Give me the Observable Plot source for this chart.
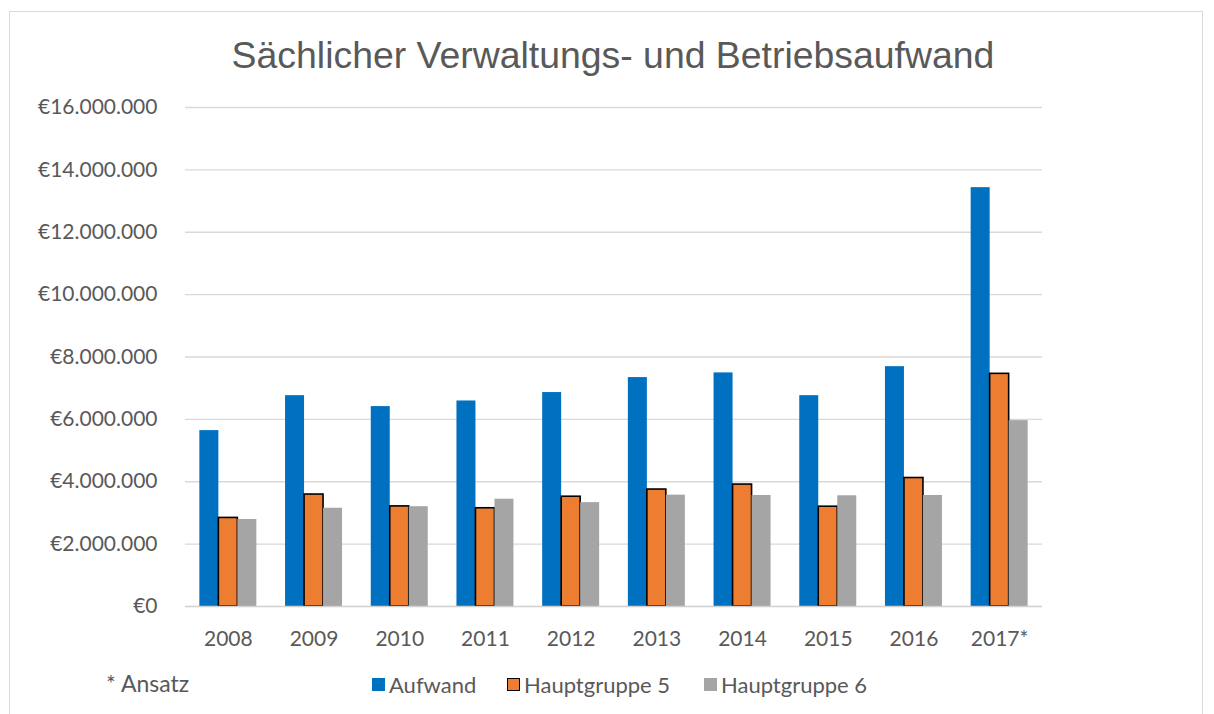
<!DOCTYPE html>
<html>
<head>
<meta charset="utf-8">
<script src="https://cdn.jsdelivr.net/npm/d3@7"></script>
<script src="https://cdn.jsdelivr.net/npm/@observablehq/plot@0.6"></script>
<style>
  html, body { margin: 0; padding: 0; background: #fff; }
  #wrap { position: relative; width: 1214px; height: 714px; overflow: hidden; }
  #frame { position: absolute; left: 9px; top: 11px; width: 1194px; height: 720px; border: 1px solid #d9d9d9; box-sizing: border-box; }
  #title { position: absolute; left: 0; width: 1226px; top: 31px; text-align: center; font-family: "Liberation Sans", Arial, sans-serif; font-size: 37.4px; color: #595959; line-height: 48px; }
  #plot { position: absolute; left: 0; top: 0; }
  #note { position: absolute; left: 106px; top: 669px; font-family: Lato, sans-serif; font-size: 23px; color: #595959; }
  #legend { position: absolute; left: 0; top: 0; font-family: Lato, sans-serif; font-size: 22px; color: #595959; }
  .item { position: absolute; top: 671px; display: flex; align-items: center; white-space: nowrap; }
  .sw { width: 13px; height: 13px; margin-right: 4px; box-sizing: border-box; }
</style>
</head>
<body>
<div id="wrap">
  <div id="frame"></div>
  <div id="title">Sächlicher Verwaltungs- und Betriebsaufwand</div>
  <div id="plot"></div>
  <div id="note">* Ansatz</div>
  <div id="legend"></div>
</div>
<script>
const years = ["2008", "2009", "2010", "2011", "2012", "2013", "2014", "2015", "2016", "2017*"];
const seriesNames = ["Aufwand", "Hauptgruppe 5", "Hauptgruppe 6"];
const seriesColors = ["#0070C0", "#ED7D31", "#A5A5A5"];
const aufwand = [5640000, 6760000, 6410000, 6590000, 6860000, 7340000, 7490000, 6760000, 7690000, 13430000];
const hauptgruppe5 = [2840000, 3590000, 3210000, 3150000, 3520000, 3750000, 3910000, 3200000, 4120000, 7460000];
const hauptgruppe6 = [2790000, 3150000, 3200000, 3440000, 3330000, 3570000, 3560000, 3550000, 3560000, 5960000];
const yTicks = [0, 2000000, 4000000, 6000000, 8000000, 10000000, 12000000, 14000000, 16000000];
const legendLeft = [372, 507, 704];

const seriesValues = [aufwand, hauptgruppe5, hauptgruppe6];
const rows = [];
seriesNames.forEach((s, i) => years.forEach((y, j) => rows.push({year: y, series: s, value: seriesValues[i][j]})));

const width = 1214, height = 660;
const marginLeft = 185, marginRight = 172, marginTop = 107, marginBottom = 54;
const paddingInner = 0.335, paddingOuter = paddingInner / 2;
const step = (width - marginLeft - marginRight) / (years.length - paddingInner + 2 * paddingOuter);
const bw = step * (1 - paddingInner);
const third = bw / 3;

const fmt = d => "€" + d3.format(",")(d).replace(/,/g, ".");

const barMarks = seriesNames.map((s, i) => Plot.barY(rows.filter(r => r.series === s), {
  x: "year",
  y: "value",
  fill: seriesColors[i],
  stroke: i === 1 ? "#000" : "none",
  strokeWidth: i === 1 ? 1.6 : 0,
  insetLeft: i * third,
  insetRight: (2 - i) * third
}));

const chart = Plot.plot({
  width, height, marginLeft, marginRight, marginTop, marginBottom,
  style: {fontFamily: "Lato, sans-serif", fontSize: "21px", color: "#595959", background: "transparent", overflow: "visible"},
  x: {domain: years, paddingInner, paddingOuter, round: false, label: null, tickSize: 0, tickPadding: 25},
  y: {domain: [0, 16000000], ticks: yTicks, tickFormat: fmt, label: null, tickSize: 0, tickPadding: 28},
  marks: [
    Plot.ruleY(yTicks.filter(d => d > 0), {stroke: "#d9d9d9", strokeWidth: 1.3, strokeOpacity: 1}),
    ...barMarks,
    Plot.ruleY([0], {stroke: "#d0d0d0", strokeWidth: 1.5})
  ]
});
document.getElementById("plot").appendChild(chart);

const legend = document.getElementById("legend");
seriesNames.forEach((s, i) => {
  const it = document.createElement("div");
  it.className = "item";
  it.style.left = legendLeft[i] + "px";
  const sw = document.createElement("span");
  sw.className = "sw";
  sw.style.background = seriesColors[i];
  if (i === 1) sw.style.border = "1.5px solid #000";
  const t = document.createElement("span");
  t.textContent = s;
  it.appendChild(sw); it.appendChild(t);
  legend.appendChild(it);
});
</script>
</body>
</html>
